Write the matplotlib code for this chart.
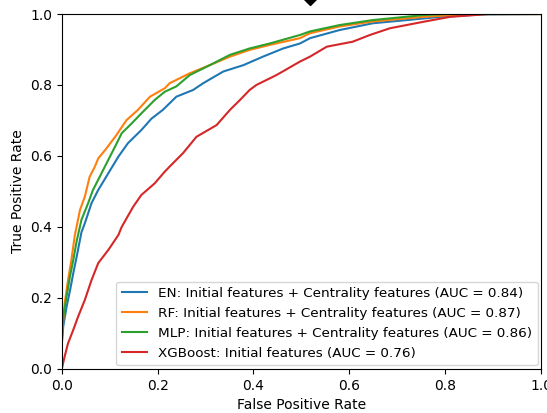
import numpy as np
import matplotlib.pyplot as plt

# ROC points (false positive rate, true positive rate)
en_fpr = [0, 0, 0.003, 0.01, 0.017, 0.024, 0.031, 0.041, 0.048, 0.062, 0.076, 0.097, 0.118, 0.138,
          0.166, 0.187, 0.211, 0.239, 0.274, 0.295, 0.337, 0.379, 0.42, 0.462, 0.497, 0.518,
          0.58, 0.649, 0.72, 0.789, 0.88, 1.0]
en_tpr = [0, 0.07, 0.12, 0.175, 0.22, 0.27, 0.316, 0.385, 0.41, 0.467, 0.504, 0.551, 0.598, 0.636,
          0.673, 0.705, 0.73, 0.767, 0.786, 0.805, 0.838, 0.856, 0.88, 0.903, 0.917, 0.932,
          0.955, 0.974, 0.983, 0.992, 0.999, 1.0]

rf_fpr = [0, 0, 0.006, 0.013, 0.02, 0.027, 0.038, 0.048, 0.058, 0.069, 0.076, 0.093, 0.114, 0.135,
          0.159, 0.184, 0.215, 0.225, 0.267, 0.309, 0.351, 0.392, 0.434, 0.497, 0.518, 0.58,
          0.649, 0.754, 0.85, 1.0]
rf_tpr = [0, 0.09, 0.185, 0.25, 0.307, 0.375, 0.448, 0.485, 0.541, 0.57, 0.593, 0.621, 0.659, 0.701,
          0.73, 0.767, 0.791, 0.805, 0.833, 0.856, 0.88, 0.899, 0.913, 0.932, 0.946, 0.965,
          0.979, 0.992, 1.0, 1.0]

mlp_fpr = [0, 0, 0.003, 0.01, 0.017, 0.024, 0.031, 0.041, 0.055, 0.065, 0.079, 0.097, 0.111, 0.125,
           0.146, 0.166, 0.194, 0.215, 0.239, 0.267, 0.309, 0.351, 0.392, 0.434, 0.497, 0.518,
           0.58, 0.649, 0.754, 0.8, 1.0]
mlp_tpr = [0, 0.08, 0.147, 0.204, 0.26, 0.307, 0.36, 0.42, 0.467, 0.504, 0.541, 0.589, 0.626, 0.664,
           0.692, 0.72, 0.758, 0.781, 0.796, 0.828, 0.856, 0.885, 0.903, 0.917, 0.941, 0.951,
           0.969, 0.983, 0.997, 1.0, 1.0]

xgb_fpr = [0, 0.006, 0.013, 0.024, 0.034, 0.048, 0.062, 0.076, 0.097, 0.118, 0.125, 0.149, 0.166,
           0.194, 0.215, 0.225, 0.253, 0.281, 0.323, 0.351, 0.372, 0.392, 0.406, 0.448, 0.497,
           0.518, 0.553, 0.607, 0.643, 0.685, 0.754, 0.81, 0.89, 1.0]
xgb_tpr = [0, 0.035, 0.072, 0.11, 0.147, 0.194, 0.25, 0.298, 0.335, 0.377, 0.40, 0.457, 0.49,
           0.523, 0.556, 0.57, 0.608, 0.654, 0.687, 0.73, 0.758, 0.786, 0.80, 0.828, 0.866,
           0.88, 0.908, 0.922, 0.941, 0.96, 0.978, 0.992, 1.0, 1.0]

labels = ['EN: Initial features + Centrality features (AUC = 0.84)',
          'RF: Initial features + Centrality features (AUC = 0.87)',
          'MLP: Initial features + Centrality features (AUC = 0.86)',
          'XGBoost: Initial features (AUC = 0.76)']
colors = ['#1f77b4', '#ff7f0e', '#2ca02c', '#d62728']

fig = plt.figure(figsize=(5.47, 4.13), dpi=100)
ax = fig.add_axes([0.113, 0.107, 0.876, 0.859])

curves = [(en_fpr, en_tpr), (rf_fpr, rf_tpr), (mlp_fpr, mlp_tpr), (xgb_fpr, xgb_tpr)]
for (fpr, tpr), lab, c in zip(curves, labels, colors):
    ax.plot(fpr, tpr, color=c, lw=1.5, label=lab)

# stray marker peeking in above the top spine
ax.plot([0.518], [1.048], marker='D', color='black', markersize=8, clip_on=False)

ax.set_xlim(0, 1)
ax.set_ylim(0, 1)
ax.set_xlabel('False Positive Rate')
ax.set_ylabel('True Positive Rate')
ax.legend(loc='lower right', fontsize=9.7, labelspacing=0.52, borderaxespad=0.25,
          handlelength=1.9)

fig.savefig('out.png', dpi=100)
